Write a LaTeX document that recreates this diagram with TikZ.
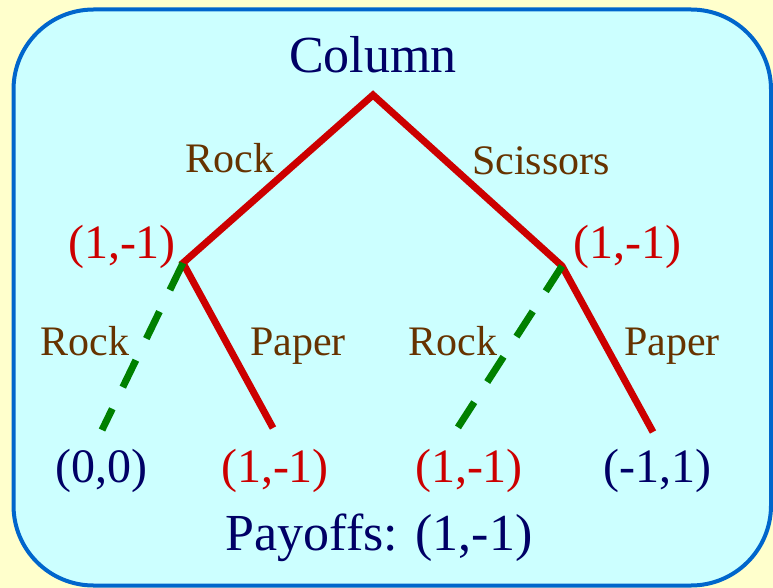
\documentclass[tikz,border=0pt]{standalone}
\usepackage{fontspec}
\setmainfont{Liberation Serif}
\definecolor{navy}{RGB}{0,0,102}
\definecolor{gamered}{RGB}{204,0,0}
\definecolor{movebrown}{RGB}{102,51,0}
\definecolor{boxfill}{RGB}{204,255,255}
\definecolor{boxline}{RGB}{0,102,204}
\definecolor{slidebg}{RGB}{255,255,204}
\definecolor{devgreen}{RGB}{0,128,0}
\begin{document}
\begin{tikzpicture}[x=1pt, y=-1pt, line join=miter,
	move/.style={gamered,line width=7pt,line cap=butt},
	dev/.style={devgreen,line width=7pt,line cap=butt,dash pattern=on 30pt off 24pt},
	act/.style={movebrown,anchor=base,font=\fontsize{42}{50}\selectfont},
	pay/.style={anchor=base,font=\fontsize{48}{58}\selectfont}]
	\useasboundingbox (0,0) rectangle (773,588);
	\fill[slidebg] (0,0) rectangle (773,588);
	\draw[boxline,line width=4pt,fill=boxfill,rounded corners=80pt] (13.5,9.5) rectangle (771,585.5);
	% tree points
	\coordinate (root) at (373,95);
	\coordinate (left) at (183,263);
	\coordinate (right) at (562,266);
	\coordinate (leftrock) at (102,430);
	\coordinate (leftpaper) at (273,428);
	\coordinate (rightrock) at (455,432);
	\coordinate (rightpaper) at (653,432);
	\draw[move] (leftpaper) -- (left) -- (root) -- (right) -- (rightpaper);
	\draw[dev] (left) -- (leftrock);
	\draw[dev] (right) -- (rightrock);
	% labels
	\node[pay,navy,font=\fontsize{52}{62}\selectfont] (column) at (373,73) {Column};
	\node[act] (rocktop) at (230,173) {Rock};
	\node[act] (scissors) at (541,175) {Scissors};
	\node[pay,gamered] (leftval) at (122,258) {(1,-1)};
	\node[pay,gamered] (rightval) at (627,258) {(1,-1)};
	\node[act] (rockll) at (85,355) {Rock};
	\node[act] (paperl) at (298,355) {Paper};
	\node[act] (rockrl) at (453,355) {Rock};
	\node[act] (paperr) at (672,355) {Paper};
	\node[pay,navy] (pay1) at (101,482) {(0,0)};
	\node[pay,gamered] (pay2) at (275,482) {(1,-1)};
	\node[pay,gamered] (pay3) at (469,482) {(1,-1)};
	\node[pay,navy] (pay4) at (657,482) {(-1,1)};
	\node[pay,navy,font=\fontsize{52}{62}\selectfont] (payoffs) at (379,550) {Payoffs: (1,-1)};
\end{tikzpicture}
\end{document}
